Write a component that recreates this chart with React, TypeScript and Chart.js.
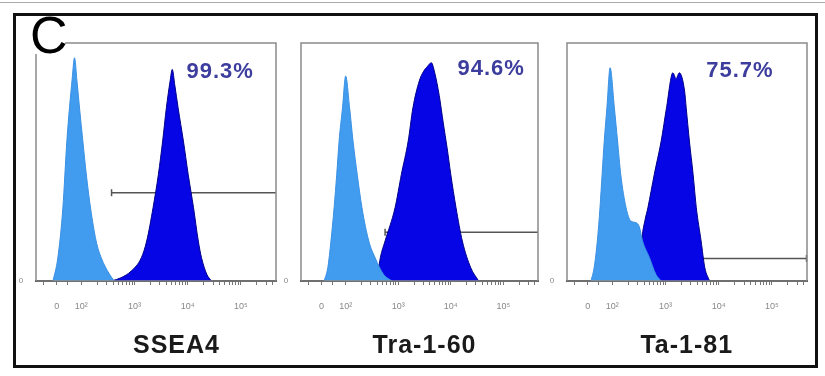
import React, { useEffect, useRef } from "react";
import { Chart, registerables } from "chart.js";

Chart.register(...registerables);

// ---- data (x in decade units of the biexponential axis, y in % of panel height) ----
const markerNames = ["SSEA4", "Tra-1-60", "Ta-1-81"];
const positivePct = ["99.3%", "94.6%", "75.7%"];
const majorTickValues = [1.54, 2, 3, 4, 5];
const majorTickLabels = ["0", "10²", "10³", "10⁴", "10⁵"];
const yTickLabel = "0";

const ctrl1X = [1.47, 1.56, 1.655, 1.73, 1.83, 1.874, 1.92, 1.968, 2.03, 2.094, 2.175, 2.28, 2.377, 2.53, 2.62];
const ctrl1Y = [0, 9.7, 30.7, 58.8, 85, 93.8, 84, 72.7, 58.8, 45, 30.7, 16.8, 9.7, 2.9, 0];
const stain1X = [2.57, 2.75, 2.94, 3.13, 3.23, 3.35, 3.45, 3.53, 3.6, 3.67, 3.71, 3.76, 3.82, 3.92, 4.01, 4.11, 4.2, 4.26, 4.36, 4.45];
const stain1Y = [0, 1.4, 4.2, 9.8, 16.8, 30.8, 44.8, 58.8, 72.8, 84, 88.9, 82, 72.8, 58.8, 44.8, 30.8, 16.8, 9.8, 2.8, 0];

const ctrl2X = [1.59, 1.66, 1.72, 1.78, 1.83, 1.875, 1.94, 2.0, 2.075, 2.14, 2.22, 2.31, 2.44, 2.56, 2.72, 2.88];
const ctrl2Y = [0, 5.6, 16.8, 30.8, 44.8, 58.8, 72.8, 86.1, 72.8, 58.8, 44.8, 30.8, 16.8, 9.8, 2.8, 0];
const stain2X = [2.6, 2.62, 2.66, 2.75, 2.94, 3.06, 3.19, 3.28, 3.4, 3.48, 3.55, 3.63, 3.7, 3.78, 3.86, 3.93, 4.0, 4.1, 4.22, 4.38, 4.53];
const stain2Y = [0, 4, 9.8, 16.8, 30.8, 44.8, 58.8, 72.8, 84, 88, 90, 91.7, 87, 78, 66, 56, 44.8, 30.8, 16.8, 5.6, 0];

const ctrl3X = [1.6, 1.66, 1.72, 1.77, 1.81, 1.85, 1.9, 1.96, 2.04, 2.1, 2.16, 2.26, 2.35, 2.45, 2.51, 2.57, 2.7, 2.82, 2.92];
const ctrl3Y = [0, 5.6, 16.8, 30.8, 44.8, 58.8, 72.8, 89.6, 72.8, 58.8, 44.8, 30.8, 25.2, 24.5, 22.7, 16.8, 9.8, 2.8, 0];
const stain3X = [2.51, 2.53, 2.56, 2.62, 2.67, 2.79, 2.92, 3.02, 3.14, 3.2, 3.26, 3.36, 3.39, 3.45, 3.52, 3.58, 3.67, 3.74, 3.83];
const stain3Y = [0, 8, 18, 26, 30.8, 44.8, 58.8, 72.8, 87.5, 85, 87.5, 79.8, 72.8, 58.8, 44.8, 30.8, 16.8, 5.6, 0];

const gateStart = [2.57, 2.75, 2.7];
const gateLevel = [37.1, 20.5, 9.5];

// ---- layout / style (not data) ----
const AXIS_MIN = 1.15;
const AXIS_MAX = 5.66;
const CTRL_COLOR = "#419cf0";
const STAIN_COLOR = "#0505e6";
const PCT_COLOR = "#3d3d9e";
const FONT = "'Liberation Sans', Arial, sans-serif";

const panels = [
  { left: 14, width: 268, yW: 22, padR: 6, ctrlX: ctrl1X, ctrlY: ctrl1Y, stainX: stain1X, stainY: stain1Y, tickSide: "left", pctX: 4.61, pctY: 85.3, titleX: 3.79 },
  { left: 282, width: 264, yW: 19, padR: 8, ctrlX: ctrl2X, ctrlY: ctrl2Y, stainX: stain2X, stainY: stain2Y, tickSide: "left", pctX: 4.77, pctY: 86.6, titleX: 3.5 },
  { left: 548, width: 266, yW: 19, padR: 7, ctrlX: ctrl3X, ctrlY: ctrl3Y, stainX: stain3X, stainY: stain3Y, tickSide: "right", pctX: 4.4, pctY: 85.7, titleX: 3.4 },
];

const minorTicks: number[] = [1.3, 1.75];
[2, 3, 4, 5].forEach((d) => {
  for (let k = 2; k <= 9; k += 1) {
    const v = d + Math.log10(k);
    if (v < AXIS_MAX) minorTicks.push(v);
  }
});
const allTicks = [...majorTickValues, ...minorTicks].sort((a, b) => a - b);

const pts = (xs: number[], ys: number[]) => xs.map((x, i) => ({ x, y: ys[i] }));

const annotPlugin = {
  id: "annot",
  beforeDatasetsDraw(chart: any, _a: any, opts: any) {
    const { ctx } = chart;
    const xs = chart.scales.x;
    const ys = chart.scales.y;
    const yy = ys.getPixelForValue(opts.gateY);
    const xx = opts.tickSide === "left" ? xs.getPixelForValue(opts.gateX) : chart.chartArea.right - 0.5;
    ctx.save();
    ctx.strokeStyle = "#555";
    ctx.lineWidth = 1.5;
    ctx.beginPath();
    ctx.moveTo(xx, yy - 3.5);
    ctx.lineTo(xx, yy + 3.5);
    ctx.stroke();
    ctx.restore();
  },
  afterDatasetsDraw(chart: any, _a: any, opts: any) {
    const { ctx, chartArea } = chart;
    const xs = chart.scales.x;
    const ys = chart.scales.y;
    ctx.save();
    ctx.strokeStyle = "#8a8a8a";
    ctx.lineWidth = 1.5;
    ctx.strokeRect(chartArea.left, chartArea.top, chartArea.right - chartArea.left, chartArea.bottom - chartArea.top);
    // y tick label at baseline
    ctx.fillStyle = "#888";
    ctx.font = `8px ${FONT}`;
    ctx.textAlign = "center";
    ctx.textBaseline = "middle";
    ctx.fillText(yTickLabel, chartArea.left - 15, ys.getPixelForValue(0));
    // percent
    ctx.textBaseline = "alphabetic";
    ctx.fillStyle = PCT_COLOR;
    ctx.font = `bold 22px ${FONT}`;
    (ctx as any).letterSpacing = "1px";
    ctx.fillText(opts.pct, xs.getPixelForValue(opts.pctX), ys.getPixelForValue(opts.pctY));
    // title
    ctx.fillStyle = "#1a1a1a";
    ctx.font = `bold 25px ${FONT}`;
    (ctx as any).letterSpacing = "1px";
    ctx.fillText(opts.title, xs.getPixelForValue(opts.titleX), chartArea.bottom + 72);
    ctx.restore();
  },
};

function Panel({ idx }: { idx: number }) {
  const ref = useRef<HTMLCanvasElement | null>(null);
  const p = panels[idx];
  useEffect(() => {
    if (!ref.current) return;
    const chart = new Chart(ref.current, {
      type: "line",
      data: {
        datasets: [
          {
            label: "isotype",
            data: pts(p.ctrlX, p.ctrlY),
            borderColor: "#3a90e2",
            backgroundColor: CTRL_COLOR,
            borderWidth: 1,
            fill: "origin",
            pointRadius: 0,
            cubicInterpolationMode: "monotone",
            order: 0,
          },
          {
            label: markerNames[idx],
            data: pts(p.stainX, p.stainY),
            borderColor: "#00008a",
            backgroundColor: STAIN_COLOR,
            borderWidth: 1,
            fill: "origin",
            pointRadius: 0,
            cubicInterpolationMode: "monotone",
            order: 1,
          },
          {
            label: "gate",
            data: [
              { x: gateStart[idx], y: gateLevel[idx] },
              { x: AXIS_MAX, y: gateLevel[idx] },
            ],
            borderColor: "#555",
            borderWidth: 1.5,
            fill: false,
            pointRadius: 0,
            order: 5,
          },
        ],
      } as any,
      options: {
        animation: false,
        responsive: false,
        devicePixelRatio: 1,
        layout: { padding: { left: 0, right: p.padR, top: 29, bottom: 0 } },
        plugins: {
          legend: { display: false },
          tooltip: { enabled: false },
          annot: {
            gateX: gateStart[idx],
            gateY: gateLevel[idx],
            tickSide: p.tickSide,
            pct: positivePct[idx],
            pctX: p.pctX,
            pctY: p.pctY,
            title: markerNames[idx],
            titleX: p.titleX,
          },
        } as any,
        scales: {
          x: {
            type: "linear",
            min: AXIS_MIN,
            max: AXIS_MAX,
            afterFit: (s: any) => {
              s.height = 85;
              s.paddingLeft = 0;
              s.paddingRight = 0;
            },
            afterBuildTicks: (s: any) => {
              s.ticks = allTicks.map((v) => ({ value: v }));
            },
            grid: { display: true, drawOnChartArea: false, drawTicks: true, tickLength: 4, color: "#777", lineWidth: 1 },
            border: { display: true, color: "#222", width: 2 },
            ticks: {
              autoSkip: false,
              maxRotation: 0,
              padding: 16,
              color: "#888",
              font: { size: 9, family: FONT },
              callback: (v: any) => {
                const i = majorTickValues.findIndex((m) => Math.abs(m - Number(v)) < 1e-6);
                return i >= 0 ? majorTickLabels[i] : "";
              },
            },
          },
          y: {
            type: "linear",
            min: 0,
            max: 100,
            afterFit: (s: any) => {
              s.width = p.yW;
              s.paddingTop = 0;
              s.paddingBottom = 0;
            },
            afterBuildTicks: (s: any) => {
              s.ticks = [{ value: 0 }];
            },
            grid: { display: false },
            border: { display: false },
            ticks: { display: false },
          },
        },
      } as any,
      plugins: [annotPlugin as any],
    });
    return () => chart.destroy();
  }, []);
  return (
    <canvas
      ref={ref}
      width={p.width}
      height={352}
      style={{ position: "absolute", left: p.left, top: 14, width: p.width, height: 352 }}
    />
  );
}

export default function App() {
  return (
    <div style={{ position: "fixed", left: 0, top: 0, width: 825, height: 376, background: "#fff", overflow: "hidden" }}>
      <div style={{ position: "absolute", left: 0, top: 2, width: 825, height: 1, background: "#aaa" }} />
      {panels.map((_, i) => (
        <Panel key={i} idx={i} />
      ))}
      <div
        style={{
          position: "absolute",
          left: 13,
          top: 13,
          width: 805,
          height: 355,
          border: "3px solid #111",
          boxSizing: "border-box",
          pointerEvents: "none",
        }}
      />
      <div
        style={{
          position: "absolute",
          left: 31,
          top: 17,
          width: 34,
          height: 37,
          background: "#fff",
          overflow: "visible",
        }}
      >
        <div
          style={{
            position: "absolute",
            left: -1,
            top: -8,
            fontFamily: FONT,
            fontSize: 52,
            lineHeight: "52px",
            color: "#000",
          }}
        >
          C
        </div>
      </div>
    </div>
  );
}
